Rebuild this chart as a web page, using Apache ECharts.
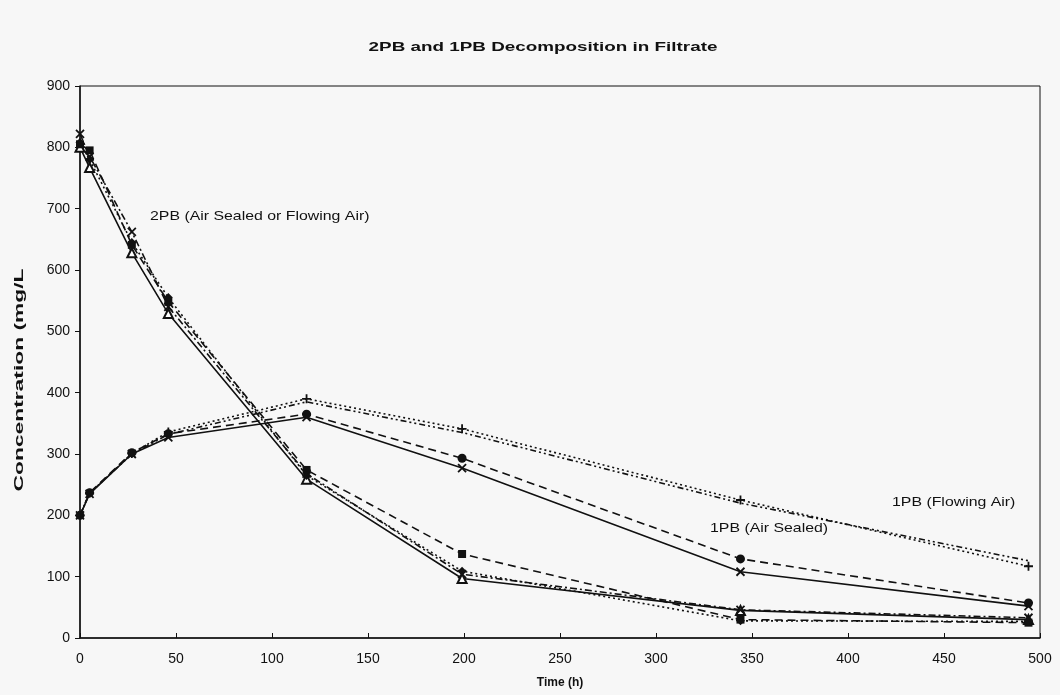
<!DOCTYPE html>
<html>
<head>
<meta charset="utf-8">
<script src="https://cdn.jsdelivr.net/npm/echarts@6/dist/echarts.min.js"></script>
<style>
html,body{margin:0;padding:0;background:#f7f7f7;}
#c{width:1060px;height:695px;}
</style>
</head>
<body>
<div id="c"></div>
<script>
// Time (h) of each sampling
const times = [0, 5, 27, 46, 118, 199, 344, 494];

// 2PB decomposition (four runs)
const pb2_solidTri   = [800, 767, 628, 529, 259, 97, 45, 30];
const pb2_dashSquare = [805, 795, 641, 548, 274, 137, 30, 25];
const pb2_dotDiamond = [808, 780, 645, 555, 265, 109, 28, 27];
const pb2_dashDotX   = [822, 785, 662, 540, 268, 104, 46, 33];

// 1PB formation / decomposition
const pb1_solidX      = [200, 235, 300, 327, 360, 277, 108, 52];
const pb1_dashCircle  = [200, 237, 302, 333, 365, 293, 129, 57];
const pb1_dotPlus     = [200, 236, 301, 336, 390, 341, 225, 117];
const pb1_dashDotDot  = [200, 236, 300, 332, 385, 335, 220, 126];

const xTicks = [0, 50, 100, 150, 200, 250, 300, 350, 400, 450, 500];
const yTicks = [0, 100, 200, 300, 400, 500, 600, 700, 800, 900];

const pair = arr => times.map((t, i) => [t, arr[i]]);

const XSYM = 'path://M0,0L10,10M10,0L0,10';
const PSYM = 'path://M5,0L5,10M0,5L10,5';

function mk(name, data, lineType, symbol, size) {
  const s = {
    name, type: 'line', data: pair(data),
    symbol, symbolSize: size,
    lineStyle: {color: '#111', width: 1.6, type: lineType},
    itemStyle: {color: '#111'},
    z: 3
  };
  if (symbol === XSYM || symbol === PSYM) {
    s.itemStyle = {color: 'rgba(0,0,0,0)', borderColor: '#111', borderWidth: 1.8};
  } else if (symbol.indexOf('empty') === 0) {
    s.itemStyle = {color: '#111', borderWidth: 1.5};
  }
  return s;
}

const chart = echarts.init(document.getElementById('c'));
const font = "'Liberation Sans', Arial, sans-serif";
chart.setOption({
  backgroundColor: '#f7f7f7',
  animation: false,
  grid: {left: 80, right: 20, top: 86, bottom: 57, show: true, borderColor: '#111', borderWidth: 1, backgroundColor: 'transparent'},
  xAxis: {
    type: 'value', min: 0, max: 500, interval: 50,
    name: 'Time (h)', nameLocation: 'middle', nameGap: 39,
    nameTextStyle: {fontFamily: font, fontSize: 12, fontWeight: 'bold', color: '#111'},
    axisLine: {show: true, lineStyle: {color: '#111', width: 1.5}},
    axisTick: {show: true, inside: true, length: 5, lineStyle: {color: '#111'}},
    axisLabel: {fontFamily: font, fontSize: 14, color: '#111', margin: 14,
      formatter: v => xTicks.includes(v) ? String(v) : ''},
    splitLine: {show: false}
  },
  yAxis: {
    type: 'value', min: 0, max: 900, interval: 100,
    axisLine: {show: true, lineStyle: {color: '#111', width: 1.5}},
    axisTick: {show: true, length: 5, lineStyle: {color: '#111'}},
    axisLabel: {fontFamily: font, fontSize: 14, color: '#111', margin: 10,
      formatter: v => yTicks.includes(v) ? String(v) : ''},
    splitLine: {show: false}
  },
  graphic: [
    {type: 'text', x: 543, y: 47, scaleX: 1.45,
      style: {text: '2PB and 1PB Decomposition in Filtrate', font: 'bold 13px ' + font, fill: '#111', textAlign: 'center', textVerticalAlign: 'middle'}},
    {type: 'text', x: 20, y: 380, rotation: Math.PI / 2, scaleX: 1.9,
      style: {text: 'Concentration (mg/L', font: 'bold 12px ' + font, fill: '#111', textAlign: 'center', textVerticalAlign: 'middle'}},
    {type: 'text', x: 150, y: 216, scaleX: 1.22,
      style: {text: '2PB (Air Sealed or Flowing Air)', font: '13px ' + font, fill: '#111', textVerticalAlign: 'middle'}},
    {type: 'text', x: 710, y: 528, scaleX: 1.22,
      style: {text: '1PB (Air Sealed)', font: '13px ' + font, fill: '#111', textVerticalAlign: 'middle'}},
    {type: 'text', x: 892, y: 502, scaleX: 1.22,
      style: {text: '1PB (Flowing Air)', font: '13px ' + font, fill: '#111', textVerticalAlign: 'middle'}}
  ],
  series: [
    mk('2PB A', pb2_solidTri, 'solid', 'emptyTriangle', 9),
    mk('2PB B', pb2_dashSquare, [8, 5], 'rect', 8),
    mk('2PB C', pb2_dotDiamond, [2, 3], 'diamond', 9),
    mk('2PB D', pb2_dashDotX, [7, 3, 2, 3], XSYM, 8),
    mk('1PB A', pb1_solidX, 'solid', XSYM, 8),
    mk('1PB B', pb1_dashCircle, [8, 5], 'circle', 9),
    mk('1PB C', pb1_dotPlus, [2, 3], PSYM, 9),
    mk('1PB D', pb1_dashDotDot, [6, 3, 2, 3, 2, 3], 'none', 1)
  ]
});
</script>
</body>
</html>
